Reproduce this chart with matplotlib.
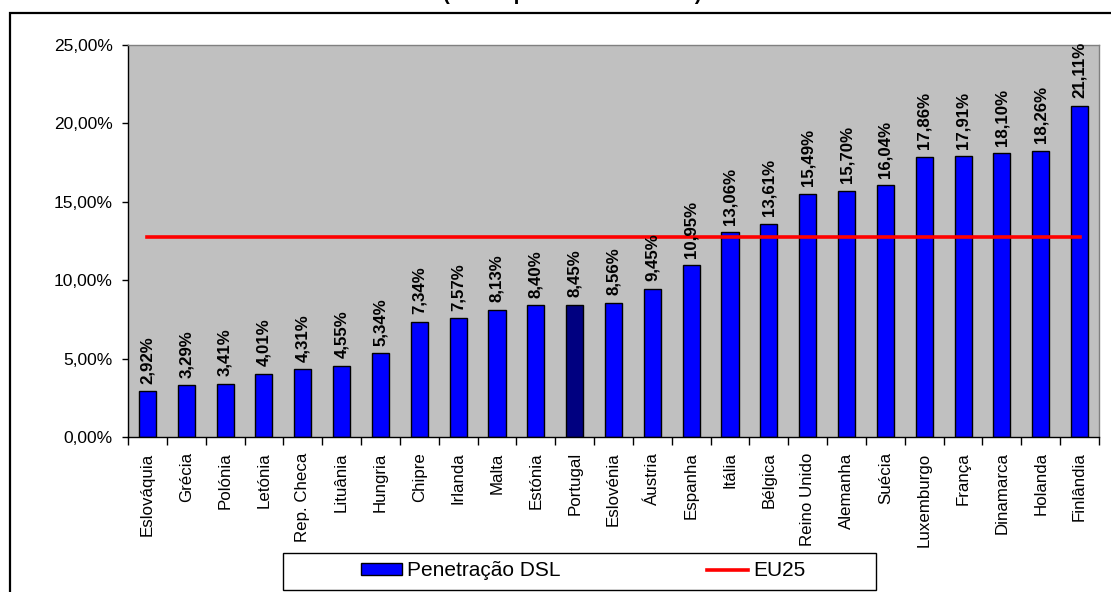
import matplotlib
matplotlib.use("Agg")
import matplotlib.pyplot as plt
from matplotlib.patches import Rectangle
from matplotlib.ticker import FuncFormatter, FixedLocator

plt.rcParams['font.family'] = ['Liberation Sans', 'DejaVu Sans']

# Data
countries = ["Eslováquia", "Grécia", "Polónia", "Letónia", "Rep. Checa", "Lituânia",
             "Hungria", "Chipre", "Irlanda", "Malta", "Estónia", "Portugal",
             "Eslovénia", "Áustria", "Espanha", "Itália", "Bélgica", "Reino Unido",
             "Alemanha", "Suécia", "Luxemburgo", "França", "Dinamarca", "Holanda",
             "Finlândia"]
dsl_penetration = [2.92, 3.29, 3.41, 4.01, 4.31, 4.55, 5.34, 7.34, 7.57, 8.13,
                   8.40, 8.45, 8.56, 9.45, 10.95, 13.06, 13.61, 15.49, 15.70,
                   16.04, 17.86, 17.91, 18.10, 18.26, 21.11]
eu25_average = 12.76
highlight = "Portugal"
series_names = ["Penetração DSL", "EU25"]
subtitle = "(UE25: por 100 habitantes)"

W, H = 1111, 592
fig = plt.figure(figsize=(W / 100, H / 100), dpi=100)
fig.patch.set_facecolor("white")

ax = fig.add_axes([128 / W, 1 - 437 / H, (1099 - 128) / W, (437 - 45) / H])
ax.set_facecolor("#C0C0C0")

x = list(range(len(countries)))
colors = ["#000080" if c == highlight else "#0000FF" for c in countries]
bars = ax.bar(x, dsl_penetration, width=0.44, color=colors, edgecolor="black",
              linewidth=1.0, zorder=2, label=series_names[0])
line, = ax.plot(x, [eu25_average] * len(x), color="#FF0000", linewidth=2.6,
                zorder=3, label=series_names[1])

def pct(v):
    return f"{v:.2f}%".replace(".", ",")

for xi, v in zip(x, dsl_penetration):
    ax.annotate(pct(v), xy=(xi, v), xytext=(0, 5.5), textcoords="offset points",
                rotation=90, ha="center", va="bottom", fontsize=12.2,
                fontweight="bold", color="black", zorder=4)

ax.set_xlim(-0.5, len(countries) - 0.5)
ax.set_ylim(0, 25)
ax.set_yticks([0, 5, 10, 15, 20, 25])
ax.yaxis.set_major_formatter(FuncFormatter(lambda v, p: pct(v)))
ax.tick_params(axis="y", direction="out", length=4, width=1, pad=7,
               labelsize=12.5, colors="black")

ax.set_xticks(x)
ax.set_xticklabels(countries, rotation=90, ha="center", va="top")
ax.tick_params(axis="x", which="major", length=0, pad=11, labelsize=12.2)
ax.xaxis.set_minor_locator(FixedLocator([i - 0.5 for i in range(len(countries) + 1)]))
ax.tick_params(axis="x", which="minor", direction="out", length=6, width=1)

for side in ("left", "bottom"):
    ax.spines[side].set_color("black")
    ax.spines[side].set_linewidth(1.0)
for side in ("top", "right"):
    ax.spines[side].set_color("#808080")
    ax.spines[side].set_linewidth(1.0)

# Outer chart frame (extends past the right and bottom edges)
fig.patches.append(Rectangle((10 / W, -0.5), 2.0, (1 - 12.5 / H) + 0.5,
                             transform=fig.transFigure, fill=False,
                             edgecolor="black", linewidth=1.6))

# Title line, mostly above the visible area
fig.text(443 / W, 1.0, subtitle, ha="left", va="baseline", fontsize=14.8,
         fontweight="bold")

# Legend box
fig.patches.append(Rectangle((283 / W, 1 - 590 / H), (876 - 283) / W, (590 - 553) / H,
                             transform=fig.transFigure, facecolor="white",
                             edgecolor="black", linewidth=1.0))
leg = fig.legend(handles=[bars.patches[0], line], labels=series_names,
                 loc="center", bbox_to_anchor=(583 / W, 1 - 571 / H),
                 ncol=2, frameon=False, fontsize=15, handlelength=2.0,
                 handleheight=0.5, handletextpad=0.24, columnspacing=7.0,
                 borderpad=0, borderaxespad=0)

fig.savefig("out.png", dpi=100, facecolor="white")
